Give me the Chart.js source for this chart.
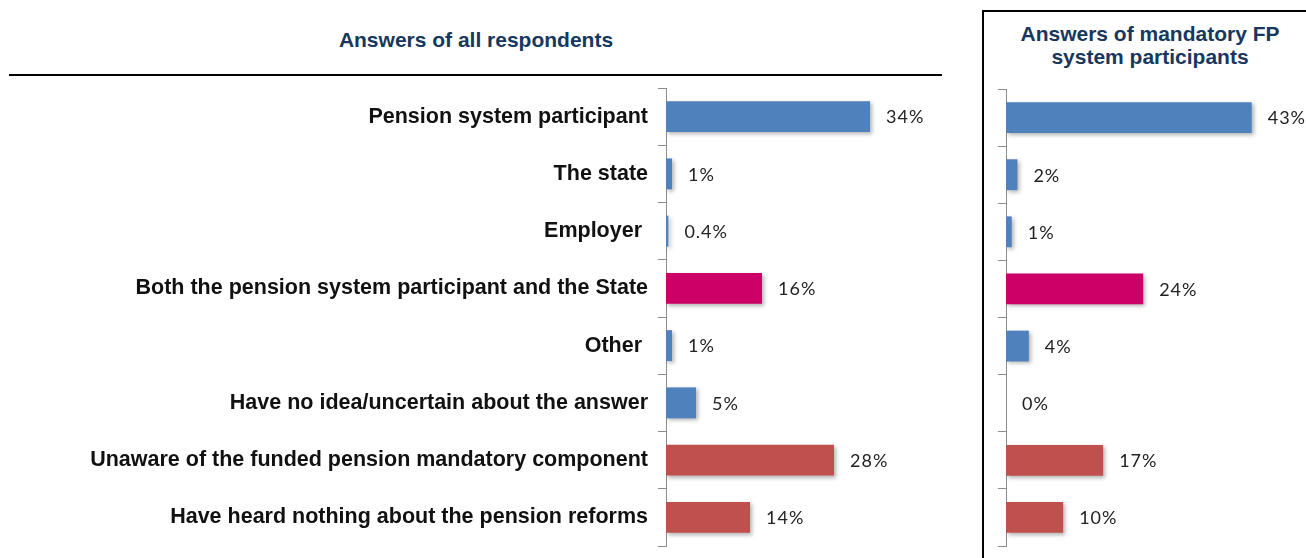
<!DOCTYPE html>
<html>
<head>
<meta charset="utf-8">
<script src="https://cdn.jsdelivr.net/npm/chart.js@4.4.1/dist/chart.umd.min.js"></script>
<style>
    body { margin: 0; width: 1306px; height: 558px; overflow: hidden; background: #fff; position: relative; font-family: "Liberation Sans", Arial, sans-serif; }
    .title { position: absolute; color: #17375e; font-weight: bold; text-align: center; font-size: 21px; }
    #allTitle { left: 226px; width: 500px; top: 28px; line-height: 24px; }
    #rule { position: absolute; left: 9px; top: 74px; width: 933px; height: 2px; background: #000; }
    #fpBox { position: absolute; left: 982px; top: 10px; width: 400px; height: 600px; border: 2px solid #000; box-sizing: border-box; }
    #fpTitle { left: 1000px; width: 300px; top: 22px; line-height: 23px; }
    canvas { position: absolute; }
    #allChart { left: 0; top: 80px; }
    #fpChart { left: 984px; top: 81px; }
</style>
</head>
<body>
<div id="fpBox"></div>
<div class="title" id="allTitle">Answers of all respondents</div>
<div id="rule"></div>
<div class="title" id="fpTitle">Answers of mandatory FP<br>system participants</div>
<canvas id="allChart" width="969" height="474"></canvas>
<canvas id="fpChart" width="322" height="473"></canvas>
<script>
// Who should be responsible for the funded pension? (shares of answers, %)
const categories = [
    'Pension system participant',
    'The state',
    'Employer ',
    'Both the pension system participant and the State',
    'Other ',
    'Have no idea/uncertain about the answer',
    'Unaware of the funded pension mandatory component',
    'Have heard nothing about the pension reforms'
];
const allRespondents = [34, 1, 0.4, 16, 1, 5, 28, 14];
const fpParticipants = [43, 2, 1, 24, 4, 0, 17, 10];

const BLUE = '#4f81bd';
const MAGENTA = '#cc0066';
const RED = '#c0504d';
const barColors = [BLUE, BLUE, BLUE, MAGENTA, BLUE, BLUE, RED, RED];

// soft drop shadow under the bars
const barShadow = {
    id: 'barShadow',
    beforeDatasetsDraw(chart) {
        const c = chart.ctx;
        c.save();
        c.shadowColor = 'rgba(0, 0, 0, 0.3)';
        c.shadowBlur = 4;
        c.shadowOffsetX = 2;
        c.shadowOffsetY = 2;
    },
    afterDatasetsDraw(chart) {
        chart.ctx.restore();
    }
};

// percentage printed just past the end of each bar
const valueLabels = {
    id: 'valueLabels',
    afterDatasetsDraw(chart) {
        const ctx = chart.ctx;
        const values = chart.data.datasets[0].data;
        ctx.save();
        ctx.font = '18px Lato, "Open Sans", sans-serif';
        ctx.letterSpacing = '1px';
        ctx.fillStyle = '#222';
        ctx.textBaseline = 'middle';
        chart.getDatasetMeta(0).data.forEach((bar, i) => {
            ctx.fillText(values[i] + '%', bar.x + 16, bar.y + 1);
        });
        ctx.restore();
    }
};

function makeChart(canvasId, values, axisWidth, xMax, showLabels) {
    return new Chart(document.getElementById(canvasId), {
        type: 'bar',
        data: {
            labels: categories,
            datasets: [{
                data: values,
                backgroundColor: barColors,
                borderWidth: 0,
                categoryPercentage: 1,
                barPercentage: 0.54
            }]
        },
        options: {
            indexAxis: 'y',
            responsive: false,
            animation: false,
            layout: { padding: { top: 8, bottom: 8, left: 0, right: 0 } },
            plugins: {
                legend: { display: false },
                tooltip: { enabled: false }
            },
            scales: {
                x: { display: false, min: 0, max: xMax },
                y: {
                    afterFit(scale) {
                        // fixed axis position; labels sit inside the bands, no extra padding needed
                        scale.width = axisWidth;
                        scale.paddingTop = 0;
                        scale.paddingBottom = 0;
                    },
                    border: { display: true, color: '#8c8c8c', width: 1 },
                    grid: { display: true, drawOnChartArea: false, drawTicks: true, tickLength: 8, offset: true, color: '#8c8c8c' },
                    ticks: {
                        display: showLabels,
                        autoSkip: false,
                        padding: 10,
                        color: '#111',
                        font: { family: '"Liberation Sans", Arial, sans-serif', size: 21.5, weight: 'bold' }
                    }
                }
            }
        },
        plugins: [barShadow, valueLabels]
    });
}

makeChart('allChart', allRespondents, 666, 50.5, true);
makeChart('fpChart', fpParticipants, 22, 52.5, false);
</script>
</body>
</html>
